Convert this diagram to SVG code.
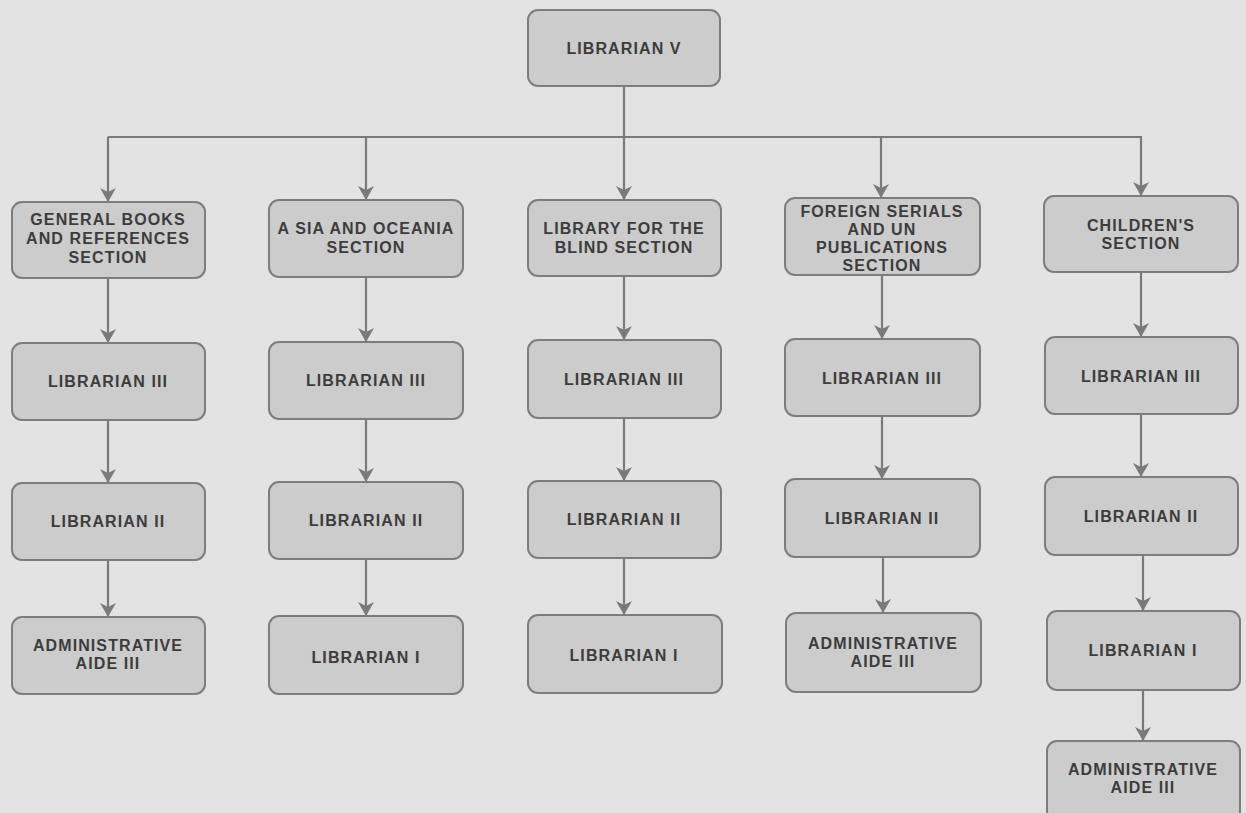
<svg xmlns="http://www.w3.org/2000/svg" width="1246" height="813" viewBox="0 0 1246 813">
<style>
.bg{fill:#e3e3e3}
.box{fill:#cccccc;stroke:#7d7d7d;stroke-width:2}
.t{font-family:"Liberation Sans",Arial,sans-serif;font-size:16px;font-weight:bold;fill:#3c3c3c;text-anchor:middle;letter-spacing:1.1px}
.c{fill:none;stroke:#7a7a7a;stroke-width:2.2}
</style>
<defs>
<marker id="ah" markerUnits="userSpaceOnUse" markerWidth="14" markerHeight="16" refX="13" refY="8" orient="auto" viewBox="0 0 14 16">
<path d="M0,0 L14,8 L0,16 L4,8 Z" fill="#7a7a7a"/>
</marker>
</defs>
<rect class="bg" x="0" y="0" width="1246" height="813"/>
<g id="connectors">
<path class="c" d="M624,86 V137"/>
<path class="c" d="M108,137 H1142"/>
<path class="c" d="M108,137 V201" marker-end="url(#ah)"/>
<path class="c" d="M366,137 V199" marker-end="url(#ah)"/>
<path class="c" d="M624,137 V199" marker-end="url(#ah)"/>
<path class="c" d="M881,137 V197" marker-end="url(#ah)"/>
<path class="c" d="M1141,137 V195" marker-end="url(#ah)"/>
<path class="c" d="M108,278 V342" marker-end="url(#ah)"/>
<path class="c" d="M366,277 V341" marker-end="url(#ah)"/>
<path class="c" d="M624,276 V339" marker-end="url(#ah)"/>
<path class="c" d="M882,275 V338" marker-end="url(#ah)"/>
<path class="c" d="M1141,272 V336" marker-end="url(#ah)"/>
<path class="c" d="M108,420 V482" marker-end="url(#ah)"/>
<path class="c" d="M366,419 V481" marker-end="url(#ah)"/>
<path class="c" d="M624,418 V480" marker-end="url(#ah)"/>
<path class="c" d="M882,416 V478" marker-end="url(#ah)"/>
<path class="c" d="M1141,414 V476" marker-end="url(#ah)"/>
<path class="c" d="M108,560 V616" marker-end="url(#ah)"/>
<path class="c" d="M366,559 V615" marker-end="url(#ah)"/>
<path class="c" d="M624,558 V614" marker-end="url(#ah)"/>
<path class="c" d="M883,557 V612" marker-end="url(#ah)"/>
<path class="c" d="M1143,555 V610" marker-end="url(#ah)"/>
<path class="c" d="M1143,690 V740" marker-end="url(#ah)"/>
</g>
<g id="n-librarian-v"><rect class="box" x="528" y="10" width="192" height="76" rx="10"/><text class="t" x="624" y="54">LIBRARIAN V</text></g>

<g id="n-general"><rect class="box" x="12" y="202" width="193" height="76" rx="10"/><text class="t" x="108" y="225">GENERAL BOOKS</text><text class="t" x="108" y="244">AND REFERENCES</text><text class="t" x="108" y="263">SECTION</text></g>
<g id="n-asia"><rect class="box" x="269" y="200" width="194" height="77" rx="10"/><text class="t" x="366" y="234">A SIA AND OCEANIA</text><text class="t" x="366" y="253">SECTION</text></g>
<g id="n-blind"><rect class="box" x="528" y="200" width="193" height="76" rx="10"/><text class="t" x="624" y="234">LIBRARY FOR THE</text><text class="t" x="624" y="253">BLIND SECTION</text></g>
<g id="n-foreign"><rect class="box" x="785" y="198" width="195" height="77" rx="10"/><text class="t" x="882" y="217">FOREIGN SERIALS</text><text class="t" x="882" y="235">AND UN</text><text class="t" x="882" y="253">PUBLICATIONS</text><text class="t" x="882" y="271">SECTION</text></g>
<g id="n-children"><rect class="box" x="1044" y="196" width="194" height="76" rx="10"/><text class="t" x="1141" y="231">CHILDREN'S</text><text class="t" x="1141" y="249">SECTION</text></g>

<g id="n-gen-l3"><rect class="box" x="12" y="343" width="193" height="77" rx="10"/><text class="t" x="108" y="387">LIBRARIAN III</text></g>
<g id="n-asia-l3"><rect class="box" x="269" y="342" width="194" height="77" rx="10"/><text class="t" x="366" y="386">LIBRARIAN III</text></g>
<g id="n-blind-l3"><rect class="box" x="528" y="340" width="193" height="78" rx="10"/><text class="t" x="624" y="385">LIBRARIAN III</text></g>
<g id="n-for-l3"><rect class="box" x="785" y="339" width="195" height="77" rx="10"/><text class="t" x="882" y="384">LIBRARIAN III</text></g>
<g id="n-chi-l3"><rect class="box" x="1045" y="337" width="193" height="77" rx="10"/><text class="t" x="1141" y="382">LIBRARIAN III</text></g>

<g id="n-gen-l2"><rect class="box" x="12" y="483" width="193" height="77" rx="10"/><text class="t" x="108" y="527">LIBRARIAN II</text></g>
<g id="n-asia-l2"><rect class="box" x="269" y="482" width="194" height="77" rx="10"/><text class="t" x="366" y="526">LIBRARIAN II</text></g>
<g id="n-blind-l2"><rect class="box" x="528" y="481" width="193" height="77" rx="10"/><text class="t" x="624" y="525">LIBRARIAN II</text></g>
<g id="n-for-l2"><rect class="box" x="785" y="479" width="195" height="78" rx="10"/><text class="t" x="882" y="524">LIBRARIAN II</text></g>
<g id="n-chi-l2"><rect class="box" x="1045" y="477" width="193" height="78" rx="10"/><text class="t" x="1141" y="522">LIBRARIAN II</text></g>

<g id="n-gen-aide"><rect class="box" x="12" y="617" width="193" height="77" rx="10"/><text class="t" x="108" y="651">ADMINISTRATIVE</text><text class="t" x="108" y="669">AIDE III</text></g>
<g id="n-asia-l1"><rect class="box" x="269" y="616" width="194" height="78" rx="10"/><text class="t" x="366" y="663">LIBRARIAN I</text></g>
<g id="n-blind-l1"><rect class="box" x="528" y="615" width="194" height="78" rx="10"/><text class="t" x="624" y="661">LIBRARIAN I</text></g>
<g id="n-for-aide"><rect class="box" x="786" y="613" width="195" height="79" rx="10"/><text class="t" x="883" y="649">ADMINISTRATIVE</text><text class="t" x="883" y="667">AIDE III</text></g>
<g id="n-chi-l1"><rect class="box" x="1047" y="611" width="193" height="79" rx="10"/><text class="t" x="1143" y="656">LIBRARIAN I</text></g>
<g id="n-chi-aide"><rect class="box" x="1047" y="741" width="193" height="80" rx="10"/><text class="t" x="1143" y="775">ADMINISTRATIVE</text><text class="t" x="1143" y="793">AIDE III</text></g>
</svg>
